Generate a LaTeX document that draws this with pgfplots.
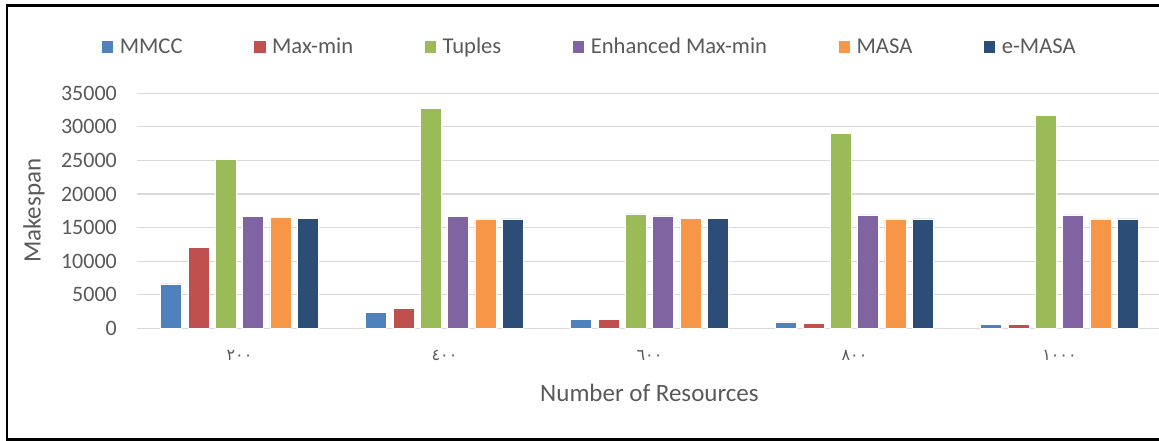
\documentclass[border=0pt]{standalone}
\usepackage{fontspec}
\setmainfont{Carlito}
\newfontfamily\arabicfont{DejaVu Sans}
\usepackage{pgfplots}
\pgfplotsset{compat=1.18}
\definecolor{txt}{HTML}{595959}
\definecolor{cA}{HTML}{4F81BD}
\definecolor{cB}{HTML}{C0504D}
\definecolor{cC}{HTML}{9BBB59}
\definecolor{cD}{HTML}{8064A2}
\definecolor{cE}{HTML}{F79646}
\definecolor{cF}{HTML}{2C4D75}
\definecolor{gridc}{HTML}{D9D9D9}
\begin{document}
\begin{tikzpicture}
\useasboundingbox (0pt,0pt) rectangle (1159pt,441pt);
\draw[black, line width=2.6pt] (7pt,1.3pt) rectangle (1170pt,435.7pt);
\begin{axis}[
  at={(137pt,112.7pt)}, anchor=south west,
  scale only axis, width=1025pt, height=235pt,
  ybar=6.3pt, bar width=21pt,
  xmin=-0.5, xmax=4.5, ymin=0, ymax=35000,
  xtick={0,1,2,3,4},
  xticklabels={{٢٠٠},{٤٠٠},{٦٠٠},{٨٠٠},{١٠٠٠}},
  ytick={0,5000,10000,15000,20000,25000,30000,35000},
  scaled y ticks=false,
  /pgf/number format/assume math mode=true,
  /pgf/number format/1000 sep={},
  major tick length=0pt,
  axis line style={draw=none},
  ymajorgrids, grid style={gridc, line width=1.2pt},
  tick label style={text=txt},
  yticklabel style={font=\fontsize{22}{26}\selectfont, anchor=east, inner sep=0pt, xshift=-20pt},
  xticklabel style={font=\arabicfont\fontsize{16}{18}\selectfont, anchor=center, yshift=-27pt},
  xlabel={Number of Resources},
  xlabel style={at={(rel axis cs:0.5,0)}, anchor=center, yshift=-65pt, font=\fontsize{25}{30}\selectfont, text=txt},
  ylabel={Makespan},
  ylabel style={at={(rel axis cs:-0.1005,0.5)}, anchor=center, font=\fontsize{25}{30}\selectfont, text=txt},
  legend columns=6,
  legend image code/.code={\fill[#1,draw=none] (0pt,-6pt) rectangle (11.5pt,5.5pt);},
  legend style={draw=none, fill=none, at={(rel axis cs:-0.0345,1.198)}, anchor=west, inner sep=0pt,
    font=\fontsize{22.6}{27}\selectfont, text=txt,
    /tikz/every odd column/.append style={column sep=4.5pt},
    /tikz/every even column/.append style={column sep=69.5pt}},
  every axis plot/.append style={draw=white, line width=0.6pt},
]
\addplot[fill=cA] coordinates {(0,6600) (1,2400) (2,1350) (3,950) (4,600)};
\addplot[fill=cB] coordinates {(0,12100) (1,2950) (2,1350) (3,750) (4,600)};
\addplot[fill=cC] coordinates {(0,25100) (1,32800) (2,17050) (3,29000) (4,31750)};
\addplot[fill=cD] coordinates {(0,16700) (1,16700) (2,16750) (3,16900) (4,16900)};
\addplot[fill=cE] coordinates {(0,16500) (1,16300) (2,16350) (3,16300) (4,16300)};
\addplot[fill=cF] coordinates {(0,16350) (1,16300) (2,16350) (3,16300) (4,16300)};
\legend{MMCC, Max-min, Tuples, Enhanced Max-min, MASA, e-MASA}
\end{axis}
\end{tikzpicture}
\end{document}
